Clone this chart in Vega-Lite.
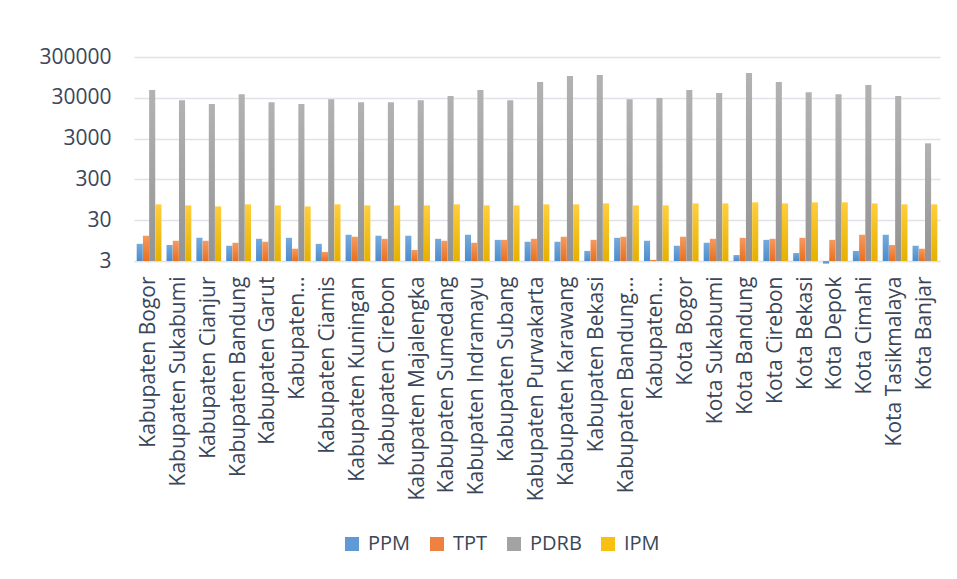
{
  "$schema": "https://vega.github.io/schema/vega-lite/v6.json",
  "width": 806,
  "height": 204,
  "autosize": {"type": "none"},
  "padding": {"left": 134, "top": 57, "right": 17, "bottom": 318},
  "background": "white",
  "config": {
    "font": "Open Sans",
    "view": {"stroke": null},
    "axis": {"labelColor": "#3A4659", "labelFont": "Open Sans"},
    "legend": {"labelColor": "#3A4659", "labelFont": "Open Sans"}
  },
  "data": {
    "values": [
      {"wilayah": "Kabupaten Bogor", "PPM": 7.9, "TPT": 12.5, "PDRB": 46300, "IPM": 73.4},
      {"wilayah": "Kabupaten Sukabumi", "PPM": 7.4, "TPT": 9.4, "PDRB": 26300, "IPM": 69.2},
      {"wilayah": "Kabupaten Cianjur", "PPM": 11.1, "TPT": 9.4, "PDRB": 21000, "IPM": 65.3},
      {"wilayah": "Kabupaten Bandung", "PPM": 7.1, "TPT": 8.4, "PDRB": 36900, "IPM": 73.4},
      {"wilayah": "Kabupaten Garut", "PPM": 10.5, "TPT": 8.9, "PDRB": 23500, "IPM": 69.2},
      {"wilayah": "Kabupaten Tasikmalaya", "PPM": 11.1, "TPT": 6.0, "PDRB": 21000, "IPM": 65.3},
      {"wilayah": "Kabupaten Ciamis", "PPM": 7.9, "TPT": 5.0, "PDRB": 27800, "IPM": 73.4},
      {"wilayah": "Kabupaten Kuningan", "PPM": 13.2, "TPT": 11.8, "PDRB": 23500, "IPM": 69.2},
      {"wilayah": "Kabupaten Cirebon", "PPM": 12.5, "TPT": 10.5, "PDRB": 23500, "IPM": 69.2},
      {"wilayah": "Kabupaten Majalengka", "PPM": 12.5, "TPT": 5.6, "PDRB": 26300, "IPM": 69.2},
      {"wilayah": "Kabupaten Sumedang", "PPM": 10.5, "TPT": 9.4, "PDRB": 33000, "IPM": 73.4},
      {"wilayah": "Kabupaten Indramayu", "PPM": 13.2, "TPT": 8.4, "PDRB": 46300, "IPM": 69.2},
      {"wilayah": "Kabupaten Subang", "PPM": 9.9, "TPT": 9.9, "PDRB": 26300, "IPM": 69.2},
      {"wilayah": "Kabupaten Purwakarta", "PPM": 8.9, "TPT": 10.5, "PDRB": 72800, "IPM": 73.4},
      {"wilayah": "Kabupaten Karawang", "PPM": 8.9, "TPT": 11.8, "PDRB": 102000, "IPM": 73.4},
      {"wilayah": "Kabupaten Bekasi", "PPM": 5.3, "TPT": 9.9, "PDRB": 108000, "IPM": 77.5},
      {"wilayah": "Kabupaten Bandung Barat", "PPM": 11.1, "TPT": 11.8, "PDRB": 27800, "IPM": 69.2},
      {"wilayah": "Kabupaten Pangandaran", "PPM": 9.4, "TPT": 3.2, "PDRB": 29500, "IPM": 69.2},
      {"wilayah": "Kota Bogor", "PPM": 7.1, "TPT": 11.8, "PDRB": 46300, "IPM": 77.5},
      {"wilayah": "Kota Sukabumi", "PPM": 8.4, "TPT": 10.5, "PDRB": 39100, "IPM": 77.5},
      {"wilayah": "Kota Bandung", "PPM": 4.2, "TPT": 11.1, "PDRB": 121000, "IPM": 82.1},
      {"wilayah": "Kota Cirebon", "PPM": 9.9, "TPT": 10.5, "PDRB": 72800, "IPM": 77.5},
      {"wilayah": "Kota Bekasi", "PPM": 4.7, "TPT": 11.1, "PDRB": 41300, "IPM": 82.1},
      {"wilayah": "Kota Depok", "PPM": 2.6, "TPT": 9.9, "PDRB": 36900, "IPM": 82.1},
      {"wilayah": "Kota Cimahi", "PPM": 5.3, "TPT": 13.2, "PDRB": 61400, "IPM": 77.5},
      {"wilayah": "Kota Tasikmalaya", "PPM": 13.2, "TPT": 7.4, "PDRB": 33000, "IPM": 73.4},
      {"wilayah": "Kota Banjar", "PPM": 7.1, "TPT": 6.0, "PDRB": 2300, "IPM": 73.4}
    ]
  },
  "transform": [
    {"fold": ["PPM", "TPT", "PDRB", "IPM"], "as": ["indikator", "nilai"]}
  ],
  "encoding": {
    "x": {
      "field": "wilayah",
      "type": "nominal",
      "sort": null,
      "scale": {"paddingInner": 0.17, "paddingOuter": 0.09},
      "axis": {
        "title": null,
        "labelAngle": -90,
        "labelFontSize": 21,
        "labelPadding": 15,
        "labelLimit": 400,
        "ticks": false,
        "domainColor": "#DFE3E8",
        "domainWidth": 1.5,
        "labelExpr": "datum.label == 'Kabupaten Tasikmalaya' || datum.label == 'Kabupaten Pangandaran' ? 'Kabupaten…' : datum.label == 'Kabupaten Bandung Barat' ? 'Kabupaten Bandung…' : datum.label"
      }
    },
    "xOffset": {
      "field": "indikator",
      "type": "nominal",
      "scale": {"domain": ["PPM", "TPT", "PDRB", "IPM"], "paddingInner": 0.02}
    },
    "y": {
      "field": "nilai",
      "type": "quantitative",
      "scale": {"type": "log", "domain": [3, 300000], "nice": false},
      "axis": {
        "title": null,
        "values": [3, 30, 300, 3000, 30000, 300000],
        "format": "d",
        "labelFontSize": 21,
        "labelPadding": 23,
        "ticks": false,
        "domain": false,
        "gridColor": "#DFE3E8",
        "gridWidth": 1.5
      }
    },
    "y2": {"datum": 3}
  },
  "layer": [
    {
      "mark": {"type": "bar", "opacity": 0},
      "encoding": {
        "color": {
          "field": "indikator",
          "type": "nominal",
          "scale": {
            "domain": ["PPM", "TPT", "PDRB", "IPM"],
            "range": ["#5F9AD6", "#EE8140", "#A3A3A3", "#F9C014"]
          },
          "legend": {
            "title": null,
            "orient": "none",
            "legendX": 208,
            "legendY": 477,
            "direction": "horizontal",
            "padding": 0,
            "symbolType": "square",
            "symbolSize": 196,
            "symbolStrokeWidth": 0,
            "symbolOpacity": 1,
            "labelFontSize": 20,
            "labelOffset": 6,
            "columnPadding": 16
          }
        }
      }
    },
    {
      "transform": [{"filter": "datum.indikator == 'PPM'"}],
      "mark": {"type": "bar", "color": {"gradient": "linear", "x1": 0, "y1": 0, "x2": 0, "y2": 1, "stops": [{"offset": 0, "color": "#74AADE"}, {"offset": 1, "color": "#4D8CCB"}]}}
    },
    {
      "transform": [{"filter": "datum.indikator == 'TPT'"}],
      "mark": {"type": "bar", "color": {"gradient": "linear", "x1": 0, "y1": 0, "x2": 0, "y2": 1, "stops": [{"offset": 0, "color": "#F59A60"}, {"offset": 1, "color": "#E8701F"}]}}
    },
    {
      "transform": [{"filter": "datum.indikator == 'PDRB'"}],
      "mark": {"type": "bar", "color": {"gradient": "linear", "x1": 0, "y1": 0, "x2": 0, "y2": 1, "stops": [{"offset": 0, "color": "#B2B2B2"}, {"offset": 1, "color": "#939393"}]}}
    },
    {
      "transform": [{"filter": "datum.indikator == 'IPM'"}],
      "mark": {"type": "bar", "color": {"gradient": "linear", "x1": 0, "y1": 0, "x2": 0, "y2": 1, "stops": [{"offset": 0, "color": "#FFCE3C"}, {"offset": 1, "color": "#E6B000"}]}}
    }
  ]
}
